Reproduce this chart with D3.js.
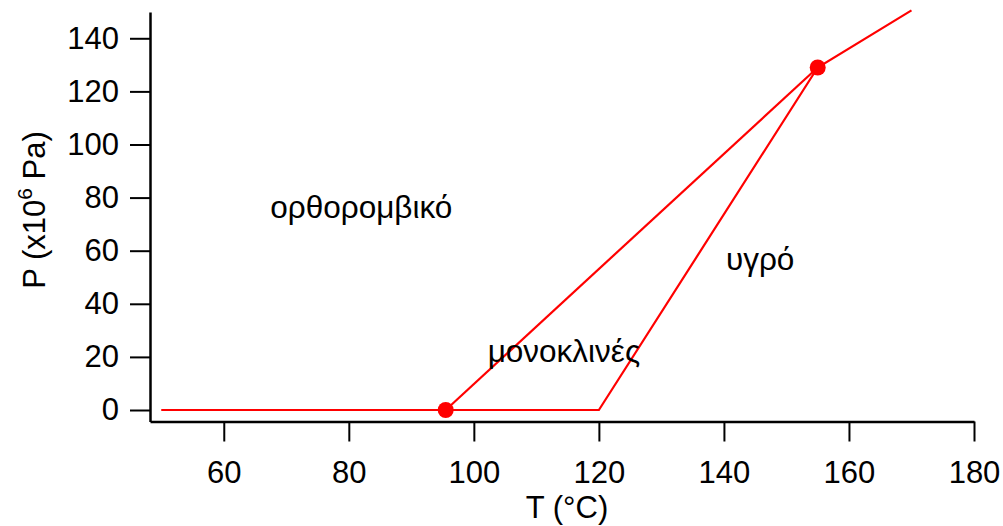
<!DOCTYPE html>
<html>
<head>
<meta charset="utf-8">
<script src="https://cdn.jsdelivr.net/npm/d3@7"></script>
<style>
  body { margin: 0; background: #fff; }
  svg text { font-family: "Liberation Sans", Arial, sans-serif; fill: #000; }
</style>
</head>
<body>
<svg id="chart" width="1003" height="526"></svg>
<script>
// phase boundaries (T in °C, P in 10^6 Pa)
const boundaryA = [[50, 0], [120, 0], [155, 129], [170, 150.5]];
const boundaryB = [[95.5, 0], [155, 129]];
const triplePoints = [[95.5, 0], [155, 129]];
const xTicks = [60, 80, 100, 120, 140, 160, 180];
const yTicks = [0, 20, 40, 60, 80, 100, 120, 140];
const regionLabels = [
  { text: "ορθορομβικό", t: 82, p: 72.3 },
  { text: "μονοκλινές", t: 114.4, p: 18.1 },
  { text: "υγρό", t: 145.8, p: 52.7 }
];

const svg = d3.select('#chart');

const x = d3.scaleLinear().domain([48.2, 180]).range([150, 974]);
const y = d3.scaleLinear().domain([-4.33, 149.9]).range([421.5, 12]);

// axes
const xAxis = svg.append('g')
  .attr('transform', `translate(0,${y(-4.33)})`)
  .call(d3.axisBottom(x).tickValues(xTicks).tickSize(20).tickPadding(19).tickSizeOuter(0));
const yAxis = svg.append('g')
  .attr('transform', `translate(${x(48.2)},0)`)
  .call(d3.axisLeft(y).tickValues(yTicks).tickSize(20).tickPadding(11).tickSizeOuter(0));

[xAxis, yAxis].forEach(g => {
  g.select('.domain').attr('stroke', '#000').attr('stroke-width', 2.5);
  g.selectAll('.tick line').attr('stroke', '#000').attr('stroke-width', 2);
  g.selectAll('.tick text').attr('font-size', 31).attr('fill', '#000')
    .style('font-family', '"Liberation Sans", Arial, sans-serif');
});

// axis titles
svg.append('text')
  .attr('x', 567).attr('y', 518)
  .attr('text-anchor', 'middle')
  .attr('font-size', 31)
  .text('T (°C)');

const yTitle = svg.append('text')
  .attr('transform', 'translate(45,210) rotate(-90)')
  .attr('text-anchor', 'middle')
  .attr('font-size', 31);
yTitle.append('tspan').text('P (x10');
yTitle.append('tspan').attr('dy', -13).attr('font-size', 21).text('6');
yTitle.append('tspan').attr('dy', 13).text(' Pa)');

// boundaries
const line = d3.line().x(d => x(d[0])).y(d => y(d[1]));
[boundaryA, boundaryB].forEach(b => {
  svg.append('path')
    .datum(b)
    .attr('d', line)
    .attr('fill', 'none')
    .attr('stroke', '#ff0000')
    .attr('stroke-width', 2.2);
});

svg.selectAll('circle.tp')
  .data(triplePoints)
  .enter().append('circle')
  .attr('class', 'tp')
  .attr('cx', d => x(d[0]))
  .attr('cy', d => y(d[1]))
  .attr('r', 8)
  .attr('fill', '#ff0000');

// region labels
svg.selectAll('text.region')
  .data(regionLabels)
  .enter().append('text')
  .attr('class', 'region')
  .attr('x', d => x(d.t))
  .attr('y', d => y(d.p))
  .attr('text-anchor', 'middle')
  .attr('font-size', 31.5)
  .text(d => d.text);
</script>
</body>
</html>
